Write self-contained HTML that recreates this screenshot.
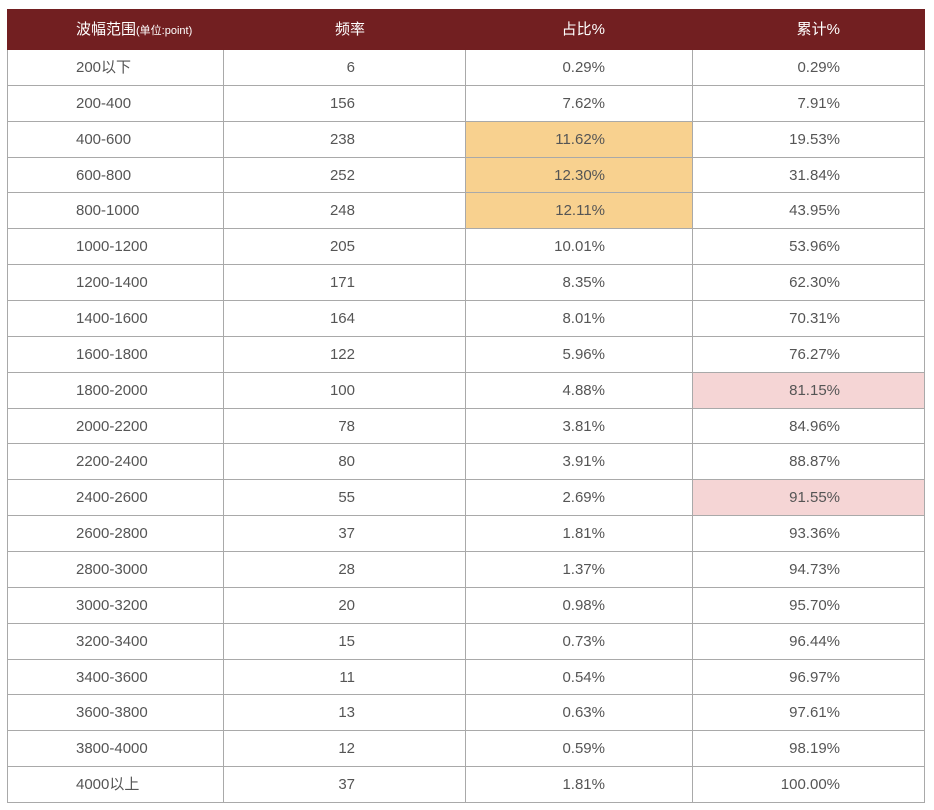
<!DOCTYPE html>
<html><head><meta charset="utf-8">
<style>
body{margin:0;width:934px;height:810px;background:#fff;overflow:hidden;font-family:"Liberation Sans","Noto Sans CJK SC",sans-serif;}
#tbl{position:absolute;left:7px;top:9px;width:918px;}
.row{position:absolute;left:0;width:918px;}
.cell{position:absolute;top:0;box-sizing:border-box;height:100%;border-right:1px solid #a9a9a9;border-bottom:1px solid #a9a9a9;font-size:15px;color:#555;line-height:35px;white-space:nowrap;}
.hdr .cell{background:#721f21;color:#fff;border-color:#721f21;line-height:41px;}
.c0{border-left:1px solid #a9a9a9;}
</style></head>
<body>
<div id="tbl"></div>
<script>
const ranges=["200以下","200-400","400-600","600-800","800-1000","1000-1200","1200-1400","1400-1600","1600-1800","1800-2000","2000-2200","2200-2400","2400-2600","2600-2800","2800-3000","3000-3200","3200-3400","3400-3600","3600-3800","3800-4000","4000以上"];
const freq=[6,156,238,252,248,205,171,164,122,100,78,80,55,37,28,20,15,11,13,12,37];
const pct=["0.29%","7.62%","11.62%","12.30%","12.11%","10.01%","8.35%","8.01%","5.96%","4.88%","3.81%","3.91%","2.69%","1.81%","1.37%","0.98%","0.73%","0.54%","0.63%","0.59%","1.81%"];
const cum=["0.29%","7.91%","19.53%","31.84%","43.95%","53.96%","62.30%","70.31%","76.27%","81.15%","84.96%","88.87%","91.55%","93.36%","94.73%","95.70%","96.44%","96.97%","97.61%","98.19%","100.00%"];
const pctHi=[2,3,4];
const cumHi=[9,12];
const tbl=document.getElementById('tbl');
const colL=[0,217,459,686], colW=[217,242,227,232];
function mkRow(top,h,vals,isHdr,i){
  const r=document.createElement('div');
  r.className='row'+(isHdr?' hdr':'');
  r.style.top=top+'px';r.style.height=h+'px';
  
  
  const names=['range-cell','frequency-cell','percent-cell','cumulative-cell'];
  vals.forEach((v,c)=>{
    const d=document.createElement('div');
    d.className='cell'+(c===0?' c0':'');
    d.style.left=colL[c]+'px';d.style.width=colW[c]+'px';
    if(c===0){d.style.paddingLeft='68px';}
    else{d.style.textAlign='right';
      const pr=isHdr?[0,101,88,85][c]:[0,111,88,85][c];
      d.style.paddingRight=(pr-1)+'px';}
    if(!isHdr&&c===2&&pctHi.includes(i))d.style.background='#f8d18f';
    if(!isHdr&&c===3&&cumHi.includes(i))d.style.background='#f5d5d5';
    d.innerHTML=v;
    
    
    r.appendChild(d);
  });
  tbl.appendChild(r);
}
mkRow(0,41,['波幅范围<span style="font-size:11px">(单位:point)</span>','频率','占比%','累计%'],true,-1);
const rh=35.86;
ranges.forEach((g,i)=>{
  const t=41+i*rh;
  mkRow(Math.round(t),Math.round(t+rh)-Math.round(t),[g,freq[i],pct[i],cum[i]],false,i);
});
</script>
</body></html>
